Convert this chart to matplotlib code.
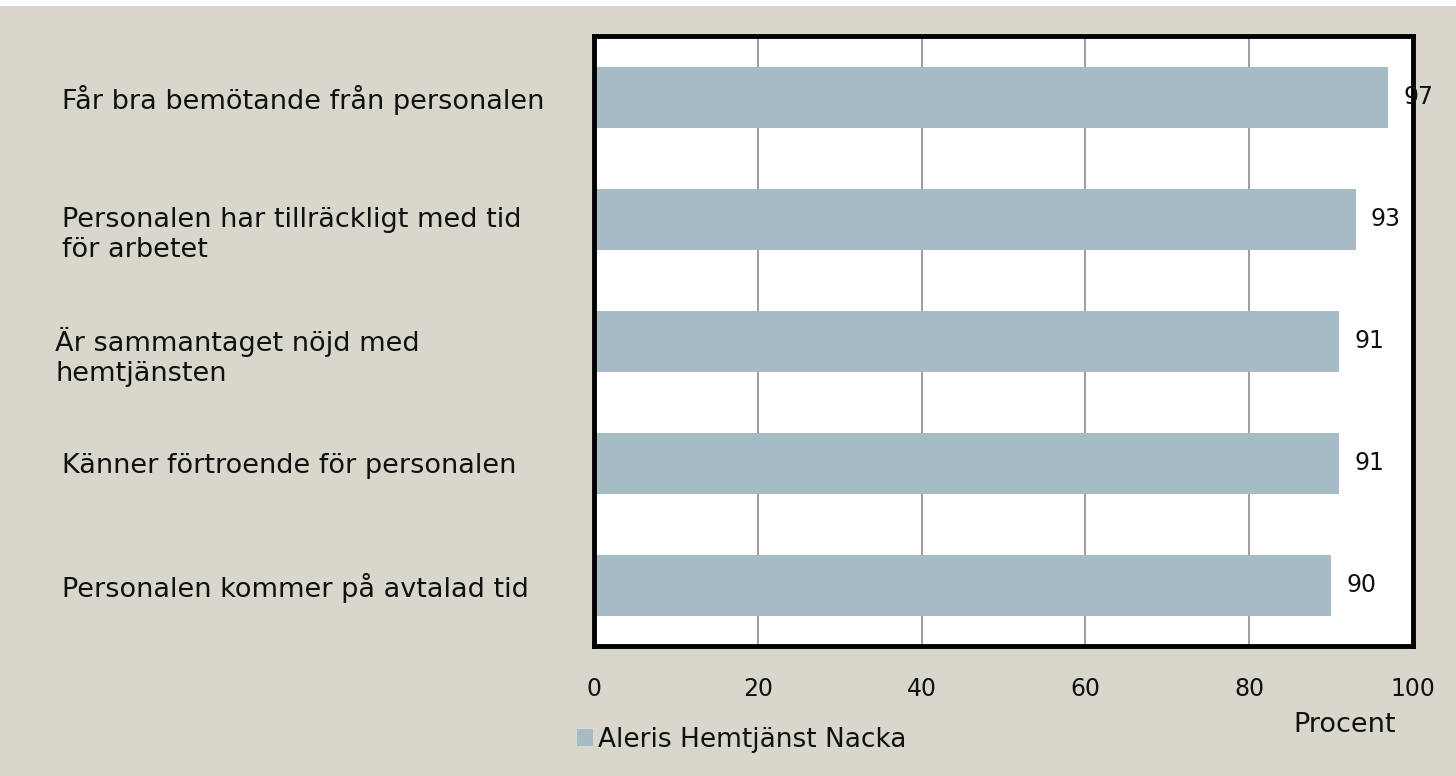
import matplotlib
matplotlib.use("Agg")
import matplotlib.pyplot as plt
from matplotlib.patches import Rectangle

categories = [
    "Får bra bemötande från personalen",
    "Personalen har tillräckligt med tid\nför arbetet",
    "Är sammantaget nöjd med\nhemtjänsten",
    "Känner förtroende för personalen",
    "Personalen kommer på avtalad tid",
]
values = [97, 93, 91, 91, 90]
xticks = [0, 20, 40, 60, 80, 100]
series_name = "Aleris Hemtjänst Nacka"
xlabel = "Procent"

BG = "#D9D7CB"
BAR = "#A7BBC6"
TXT = "#111111"
W, H = 1456, 776

plt.rcParams['font.family'] = ['DejaVu Sans']
fig = plt.figure(figsize=(W / 100, H / 100), dpi=100, facecolor=BG)
fig.patches.append(Rectangle((0, 1 - 6 / H), 1, 6 / H, transform=fig.transFigure,
                             facecolor="white", edgecolor="none", zorder=0))

x0, x1, y0, y1 = 594, 1413, 36, 646
ax = fig.add_axes([x0 / W, 1 - y1 / H, (x1 - x0) / W, (y1 - y0) / H])
ax.set_facecolor("white")

ypos = list(range(len(categories)))
bars = ax.barh(ypos, values, height=0.5, color=BAR, zorder=2, label=series_name)
ax.set_xlim(0, 100)
ax.set_ylim(len(categories) - 0.5, -0.5)
ax.set_xticks(xticks)
ax.set_xticklabels([str(t) for t in xticks], fontsize=17, color=TXT)
ax.tick_params(axis='x', length=0, pad=22)
ax.set_yticks([])
ax.grid(axis='x', color="#8c8c8c", lw=1.2, zorder=1)
for s in ax.spines.values():
    s.set_linewidth(3.5)
    s.set_color("black")
    s.set_zorder(5)

for yi, v in zip(ypos, values):
    ax.annotate(str(v), (v, yi), xytext=(11, 0), textcoords="offset points",
                ha="left", va="center", fontsize=17, color=TXT, zorder=6)

# category labels at left
for yi, c in zip(ypos, categories):
    yd = ax.transData.transform((0, yi))[1]
    multi = "\n" in c
    dy = 16 if multi else 3
    xl = 55 if c.startswith("Är") else 62
    fig.text(xl / W, (yd - dy) / H, c, ha="left", va="center", fontsize=19.5,
             color=TXT, linespacing=1.2, transform=fig.transFigure)

fig.text(1345 / W, 1 - 725 / H, xlabel, ha="center", va="center", fontsize=19.5, color=TXT)

leg = fig.legend(handles=[bars], labels=[series_name], loc="center left",
                 bbox_to_anchor=(553 / W, 1 - 740 / H), frameon=False, fontsize=19,
                 handlelength=0.6, handleheight=0.6, handletextpad=0.2)
for t in leg.get_texts():
    t.set_color(TXT)

fig.savefig("out.png", dpi=100, facecolor=BG)
